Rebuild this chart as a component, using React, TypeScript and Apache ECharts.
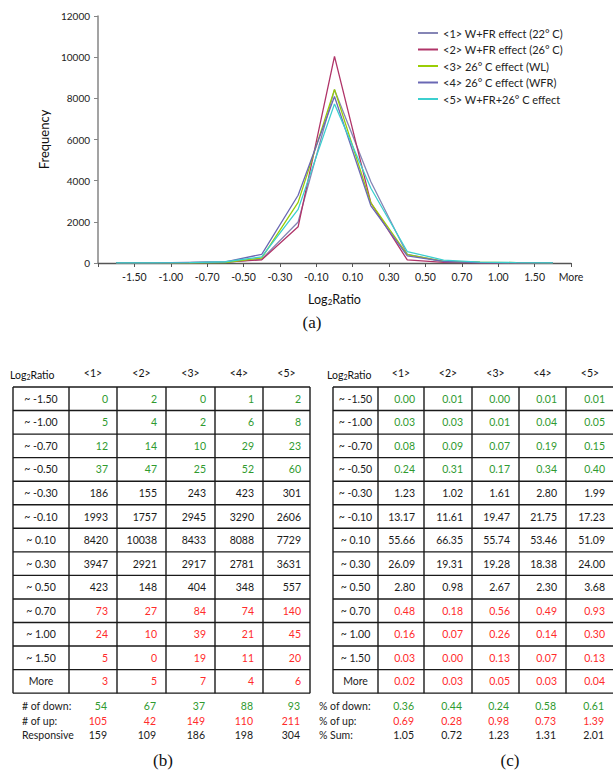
import React, { useEffect, useRef } from 'react';
import * as echarts from 'echarts';

// ---------- data ----------
const xLabels = ['-1.50', '-1.00', '-0.70', '-0.50', '-0.30', '-0.10', '0.10', '0.30', '0.50', '0.70', '1.00', '1.50', 'More'];
const binLabels = ['~ -1.50', '~ -1.00', '~ -0.70', '~ -0.50', '~ -0.30', '~ -0.10', '~ 0.10', '~ 0.30', '~ 0.50', '~ 0.70', '~ 1.00', '~ 1.50', 'More'];
const seriesNames = [
  '<1> W+FR effect (22° C)',
  '<2> W+FR effect (26° C)',
  '<3> 26° C effect (WL)',
  '<4> 26° C effect (WFR)',
  '<5> W+FR+26° C effect',
];
const colHeads = ['<1>', '<2>', '<3>', '<4>', '<5>'];

const count1 = [0, 5, 12, 37, 186, 1993, 8420, 3947, 423, 73, 24, 5, 3];
const count2 = [2, 4, 14, 47, 155, 1757, 10038, 2921, 148, 27, 10, 0, 5];
const count3 = [0, 2, 10, 25, 243, 2945, 8433, 2917, 404, 84, 39, 19, 7];
const count4 = [1, 6, 29, 52, 423, 3290, 8088, 2781, 348, 74, 21, 11, 4];
const count5 = [2, 8, 23, 60, 301, 2606, 7729, 3631, 557, 140, 45, 20, 6];

const pct1 = [0.0, 0.03, 0.08, 0.24, 1.23, 13.17, 55.66, 26.09, 2.8, 0.48, 0.16, 0.03, 0.02];
const pct2 = [0.01, 0.03, 0.09, 0.31, 1.02, 11.61, 66.35, 19.31, 0.98, 0.18, 0.07, 0.0, 0.03];
const pct3 = [0.0, 0.01, 0.07, 0.17, 1.61, 19.47, 55.74, 19.28, 2.67, 0.56, 0.26, 0.13, 0.05];
const pct4 = [0.01, 0.04, 0.19, 0.34, 2.8, 21.75, 53.46, 18.38, 2.3, 0.49, 0.14, 0.07, 0.03];
const pct5 = [0.01, 0.05, 0.15, 0.4, 1.99, 17.23, 51.09, 24.0, 3.68, 0.93, 0.3, 0.13, 0.04];

const downCounts = [54, 67, 37, 88, 93];
const upCounts = [105, 42, 149, 110, 211];
const responsive = [159, 109, 186, 198, 304];
const pctDown = [0.36, 0.44, 0.24, 0.58, 0.61];
const pctUp = [0.69, 0.28, 0.98, 0.73, 1.39];
const pctSum = [1.05, 0.72, 1.23, 1.31, 2.01];

const countFootLabels = ['# of down:', '# of up:', 'Responsive'];
const pctFootLabels = ['% of down:', '% of up:', '% Sum:'];

// ---------- styles ----------
const seriesColors = ['#8585b5', '#b03468', '#9acd05', '#6a68b4', '#3ccfcf'];
const GREEN = '#2f9a2f';
const RED = '#ff2b2b';
const INK = '#1a1a1a';
const FONT = 'Lato, "Open Sans", sans-serif';
const SERIF = '"Liberation Serif", "DejaVu Serif", serif';

const counts = [count1, count2, count3, count4, count5];
const pcts = [pct1, pct2, pct3, pct4, pct5];

function txt(x: number, y: number, text: string, align: string, fill: string, size = 10.5, family = FONT, rich?: any) {
  const style: any = {
    text, x: 0, y: 0, fill,
    fontSize: size, fontFamily: family,
    textAlign: align, align, textVerticalAlign: 'middle', verticalAlign: 'middle',
  };
  if (rich) style.rich = rich;
  return { type: 'text', x, y, silent: true, style };
}

function ln(x1: number, y1: number, x2: number, y2: number) {
  return { type: 'line', silent: true, shape: { x1, y1, x2, y2 }, style: { stroke: INK, lineWidth: 1.4 } };
}

const subRich = {
  a: { fontSize: 10.5, fontFamily: FONT, lineHeight: 14, verticalAlign: 'bottom', fill: '#111', color: '#111' },
  s: { fontSize: 7, fontFamily: FONT, lineHeight: 8, verticalAlign: 'bottom', fill: '#111', color: '#111' },
};

function rowColor(r: number) {
  if (r < 4) return GREEN;
  if (r > 8) return RED;
  return INK;
}

function tableGraphics(edges: number[], headerX: number, footX: number, cols: number[][], fmt: (v: number) => string, footLabels: string[], foot: number[][]) {
  const els: any[] = [];
  const top = 387;
  const rowH = 23.55;
  const n = binLabels.length;
  const bottom = top + n * rowH;
  const headY = 373;
  els.push(txt(headerX, headY, '{a|Log}{s|2}{a|Ratio}', 'left', '#111', 10.5, FONT, subRich));
  colHeads.forEach((h, j) => els.push(txt((edges[j + 1] + edges[j + 2]) / 2, headY, h, 'center', '#111')));
  for (let r = 0; r <= n; r++) els.push(ln(edges[0], top + r * rowH, edges[edges.length - 1], top + r * rowH));
  edges.forEach((x) => els.push(ln(x, top, x, bottom)));
  binLabels.forEach((b, r) => {
    const cy = top + (r + 0.5) * rowH;
    els.push(txt((edges[0] + edges[1]) / 2, cy, b, 'center', INK));
    cols.forEach((col, j) => els.push(txt(edges[j + 2] - 9, cy, fmt(col[r]), 'right', rowColor(r))));
  });
  const footColors = [GREEN, RED, INK];
  footLabels.forEach((lab, k) => {
    const y = bottom + 13 + k * 14.5;
    els.push(txt(footX, y, lab, 'left', INK));
    foot[k].forEach((v, j) => els.push(txt(edges[j + 2] - 10, y, fmt(v), 'right', footColors[k])));
  });
  return els;
}

export default function App() {
  const ref = useRef<HTMLDivElement>(null);
  useEffect(() => {
    if (!ref.current) return;
    const chart = echarts.init(ref.current, null, { renderer: 'svg' });
    const graphics: any[] = [
      ...tableGraphics([13, 69, 117, 166, 215, 263, 310], 10, 22, counts, (v) => String(v), countFootLabels, [downCounts, upCounts, responsive]),
      ...tableGraphics([333, 378, 424, 472, 519, 566, 614], 327, 319, pcts, (v) => v.toFixed(2), pctFootLabels, [pctDown, pctUp, pctSum]),
      txt(312, 322, '(a)', 'center', '#111', 17, SERIF),
      txt(163, 760, '(b)', 'center', '#111', 17, SERIF),
      txt(510, 760, '(c)', 'center', '#111', 17, SERIF),
    ];
    const option: any = {
      animation: false,
      textStyle: { fontFamily: FONT },
      grid: { left: 98, right: 42, top: 16, bottom: 512, containLabel: false },
      legend: {
        orient: 'vertical', left: 418, top: 27, padding: 0,
        icon: 'rect', itemWidth: 20, itemHeight: 2, itemGap: 4.5,
        textStyle: { fontSize: 11, color: '#222', fontFamily: FONT, lineHeight: 12 },
        data: seriesNames,
      },
      xAxis: [
        { type: 'category', data: xLabels, boundaryGap: true, show: false },
        {
          type: 'value', min: 0, max: 13, interval: 1, position: 'bottom',
          axisLine: { show: true, lineStyle: { color: '#555', width: 1.3 } },
          axisTick: { show: true, length: 4, lineStyle: { color: '#555' } },
          splitLine: { show: false },
          axisLabel: {
            formatter: (v: number) => (v >= 1 ? xLabels[Math.round(v) - 1] : ''),
            fontSize: 10.5, color: '#222', margin: 8, showMinLabel: true, showMaxLabel: true, fontFamily: FONT,
          },
          name: '{a|Log}{s|2}{a|Ratio}', nameLocation: 'middle', nameGap: 28,
          nameTextStyle: {
            rich: {
              a: { fontSize: 12.5, fontFamily: FONT, lineHeight: 15, verticalAlign: 'bottom', color: '#111' },
              s: { fontSize: 8, fontFamily: FONT, lineHeight: 8, verticalAlign: 'bottom', color: '#111' },
            },
          },
        },
      ],
      yAxis: {
        type: 'value', min: 0, max: 12000, interval: 2000,
        axisLine: { show: true, lineStyle: { color: '#858585', width: 1.5 } },
        axisTick: { show: true, length: 4, lineStyle: { color: '#858585' } },
        splitLine: { show: false },
        axisLabel: { fontSize: 10, color: '#222', margin: 8, fontFamily: FONT, formatter: (v: number) => String(v) },
        name: 'Frequency', nameLocation: 'middle', nameGap: 44, nameRotate: 90,
        nameTextStyle: { fontSize: 13, color: '#111', fontFamily: FONT },
      },
      series: counts.map((d, i) => ({
        type: 'line', name: seriesNames[i], data: d, xAxisIndex: 0, yAxisIndex: 0,
        symbol: 'none', lineStyle: { color: seriesColors[i], width: 1.3 }, itemStyle: { color: seriesColors[i] },
      })),
      graphic: graphics,
    };
    chart.setOption(option);
    return () => chart.dispose();
  }, []);
  return <div ref={ref} style={{ position: 'absolute', left: 0, top: 0, width: 613, height: 775, background: '#fff' }} />;
}
